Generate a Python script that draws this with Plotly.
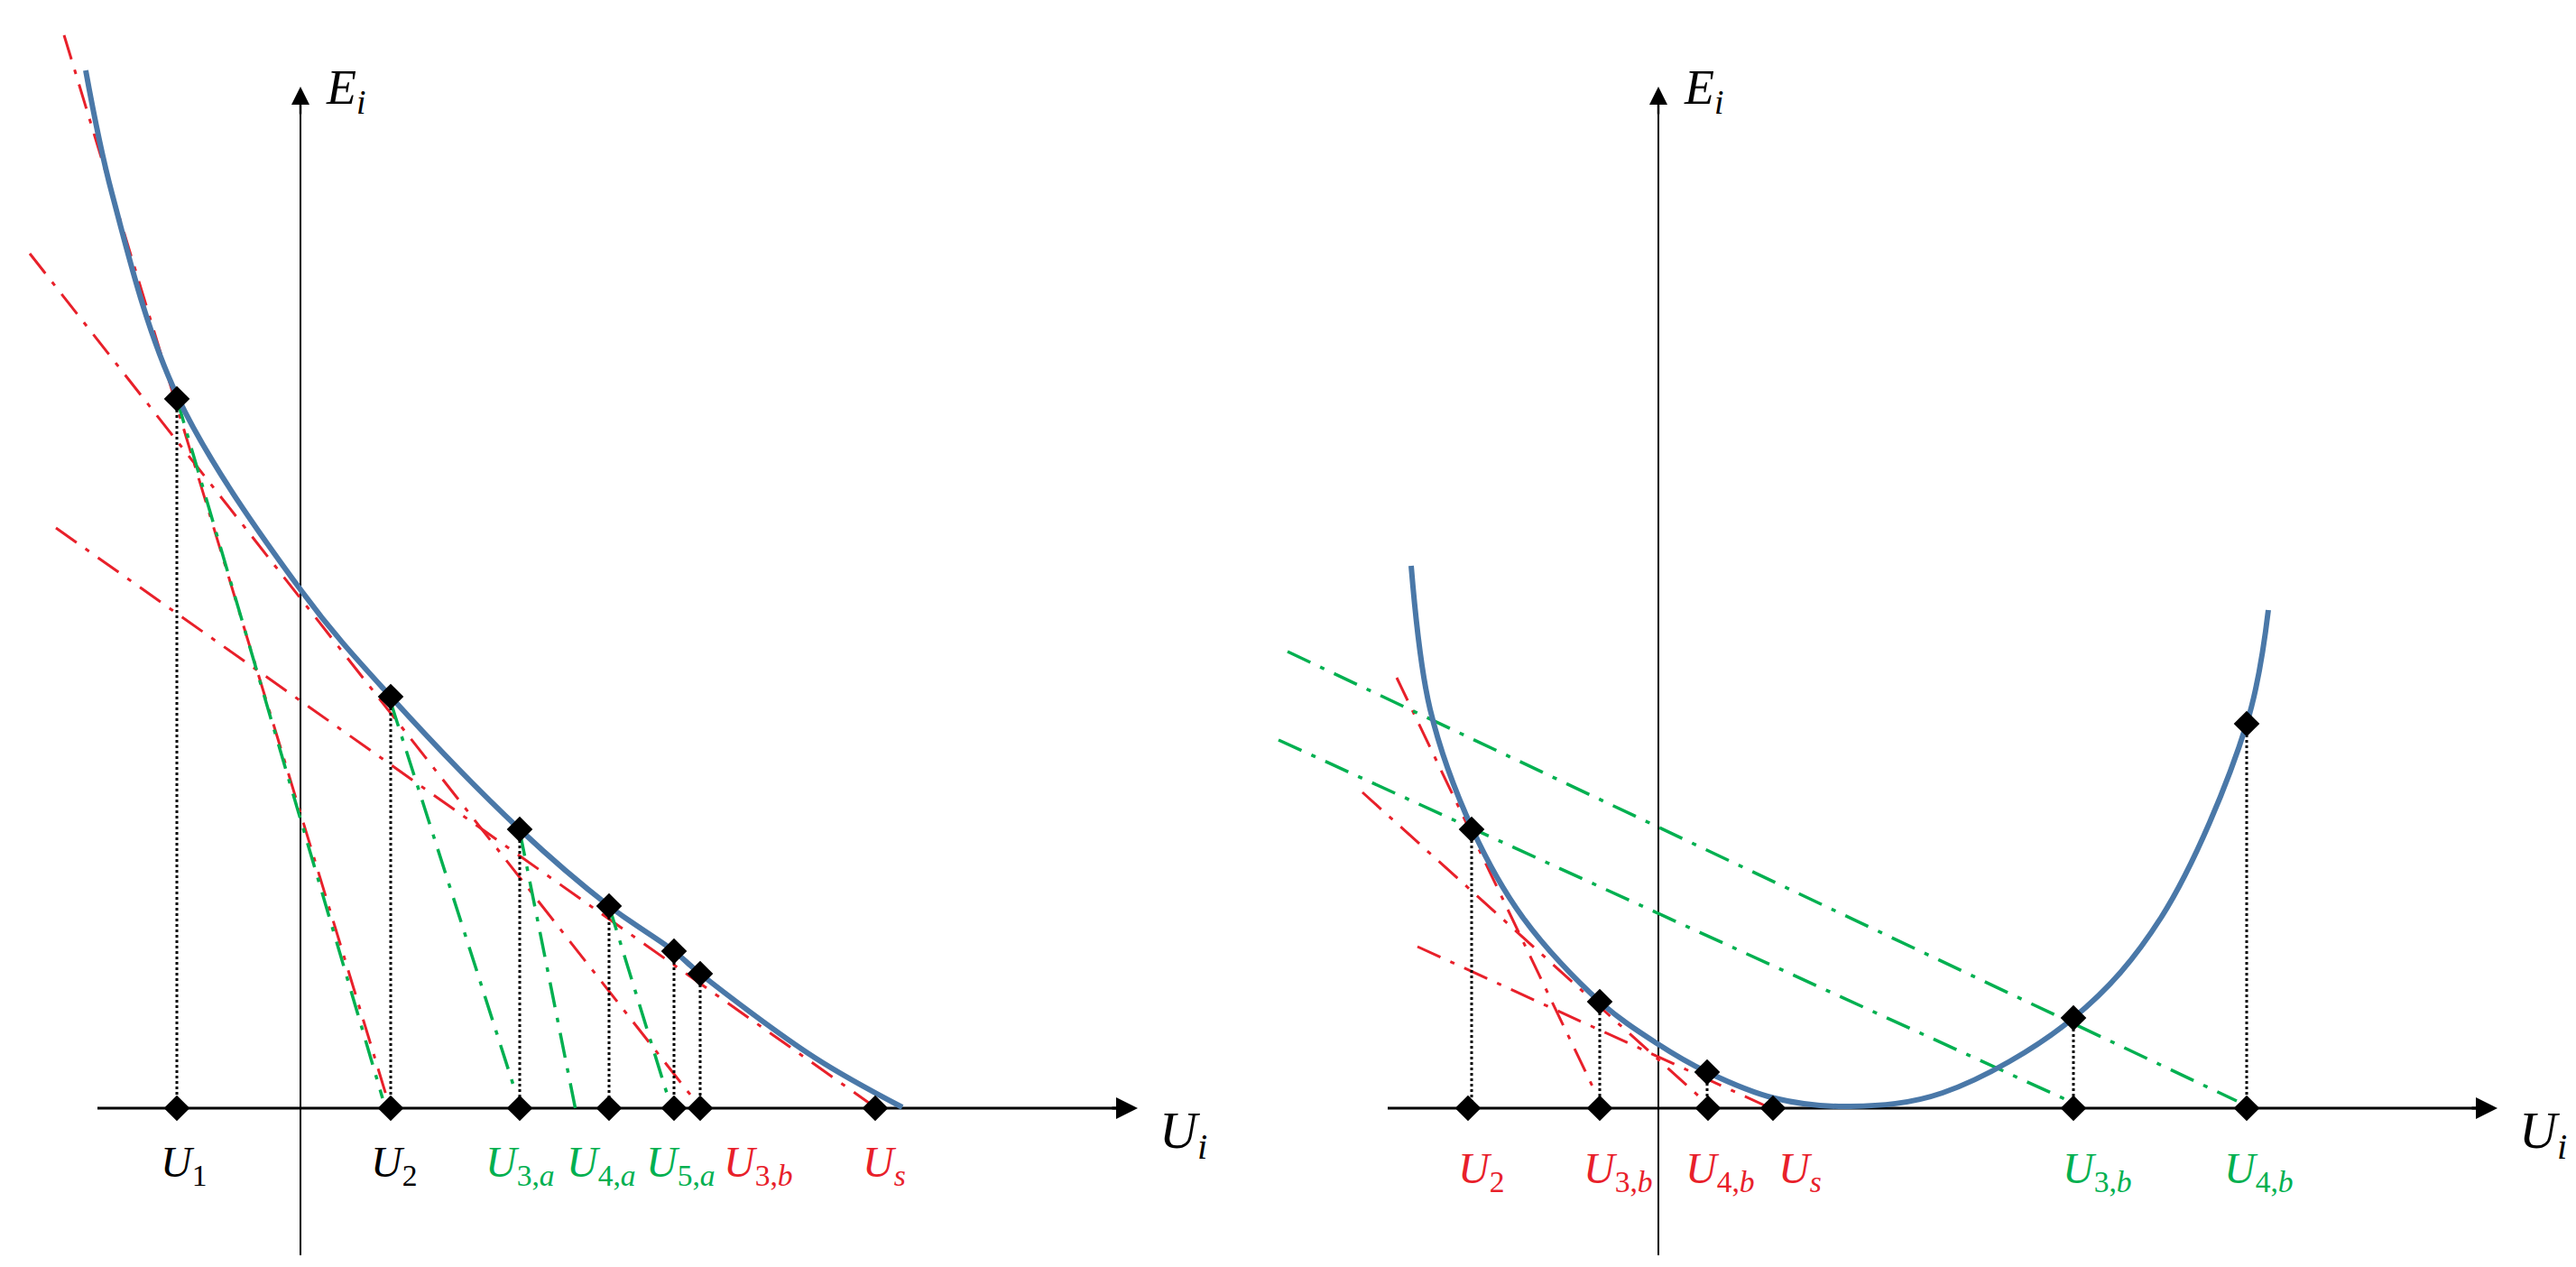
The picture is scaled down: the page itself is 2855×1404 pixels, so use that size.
import plotly.graph_objects as go

# ---- left panel (pixel-like diagram coordinates) ----
L_curve_x = [87, 116, 188, 327, 425, 568, 667, 739, 768, 895, 992]
L_curve_y = [70, 206, 430, 648, 764, 911, 996, 1046, 1071, 1164, 1219]
L_pts_x = [188, 425, 568, 667, 739, 768]
L_pts_y = [434, 764, 911, 996, 1046, 1071]
L_axis_pts_x = [188, 425, 568, 667, 739, 768, 962]
L_red_lines = [[(63, 31), (421, 1209)], [(25, 273), (768, 1219)], [(54, 577), (962, 1219)]]
L_green_lines = [[(188, 434), (416, 1209)], [(425, 770), (564, 1204)],
                 [(568, 913), (631, 1227)], [(667, 996), (734, 1213)]]
L_labels = ["<i>U</i><sub>1</sub>", "<i>U</i><sub>2</sub>", "<i>U</i><sub>3,<i>a</i></sub>",
            "<i>U</i><sub>4,<i>a</i></sub>", "<i>U</i><sub>5,<i>a</i></sub>",
            "<i>U</i><sub>3,<i>b</i></sub>", "<i>U</i><sub><i>s</i></sub>"]
L_label_x = [195, 428, 568, 658, 746, 832, 972]
L_label_c = ["black", "black", "#00b050", "#00b050", "#00b050", "#e8202a", "#e8202a"]

# ---- right panel ----
R_curve_x = [1556, 1577, 1624, 1680, 1765, 1828, 1884, 1959, 2043, 2145, 2290, 2387, 2482, 2506]
R_curve_y = [619, 778, 911, 1009, 1102, 1148, 1180, 1209, 1218, 1203, 1120, 1009, 794, 668]
R_pts_x = [1623, 1765, 1884, 2290, 2482]
R_pts_y = [911, 1102, 1180, 1120, 794]
R_axis_pts_x = [1619, 1765, 1885, 1957, 2290, 2482]
R_red_lines = [[(1540, 743), (1759, 1200)], [(1502, 870), (1884, 1215)], [(1563, 1041), (1950, 1218)]]
R_green_lines = [[(1419, 714), (2471, 1212)], [(1409, 812), (2285, 1212)]]
R_labels = ["<i>U</i><sub>2</sub>", "<i>U</i><sub>3,<i>b</i></sub>", "<i>U</i><sub>4,<i>b</i></sub>",
            "<i>U</i><sub><i>s</i></sub>", "<i>U</i><sub>3,<i>b</i></sub>", "<i>U</i><sub>4,<i>b</i></sub>"]
R_label_x = [1633, 1785, 1898, 1987, 2316, 2495]
R_label_c = ["#e8202a", "#e8202a", "#e8202a", "#e8202a", "#00b050", "#00b050"]

AX_Y = 1220
RED, GREEN, BLUE = "#e8202a", "#00b050", "#4a78a8"
FONT = "Liberation Serif"
DASHDOT = "28px,12px,5px,12px"

fig = go.Figure()

def seg(p, color, dash, width):
    fig.add_trace(go.Scatter(x=[p[0][0], p[1][0]], y=[p[0][1], p[1][1]], mode="lines",
                             line=dict(color=color, dash=dash, width=width), hoverinfo="skip"))

# axes
for (x0, x1, xv) in [(100, 1253, 325), (1530, 2760, 1830)]:
    seg([(x0, AX_Y), (x1 - 10, AX_Y)], "black", "solid", 3)
    seg([(xv, 1383), (xv, 100)], "black", "solid", 2)
    fig.add_annotation(x=x1, y=AX_Y, ax=x1 - 30, ay=AX_Y, xref="x", yref="y", axref="x", ayref="y",
                       showarrow=True, arrowhead=2, arrowsize=1.6, arrowwidth=3, arrowcolor="black", text="")
    fig.add_annotation(x=xv, y=88, ax=xv, ay=120, xref="x", yref="y", axref="x", ayref="y",
                       showarrow=True, arrowhead=2, arrowsize=1.6, arrowwidth=2.5, arrowcolor="black", text="")
    fig.add_annotation(x=xv + 50, y=92, text="<i>E</i><sub><i>i</i></sub>", showarrow=False,
                       font=dict(family=FONT, size=54, color="black"))
    fig.add_annotation(x=x1 + 50, y=AX_Y + 28, text="<i>U</i><sub><i>i</i></sub>", showarrow=False,
                       font=dict(family=FONT, size=58, color="black"))

for p in L_red_lines + R_red_lines:
    seg(p, RED, DASHDOT, 3)
for p in L_green_lines + R_green_lines:
    seg(p, GREEN, DASHDOT, 3.5)

# dotted drops
for xs, ys in [(L_pts_x, L_pts_y), (R_pts_x, R_pts_y)]:
    for x, y in zip(xs, ys):
        seg([(x, y), (x, AX_Y)], "black", "dot", 3)

fig.add_trace(go.Scatter(x=L_curve_x, y=L_curve_y, mode="lines", line=dict(color=BLUE, width=6, shape="spline"), hoverinfo="skip"))
fig.add_trace(go.Scatter(x=R_curve_x, y=R_curve_y, mode="lines", line=dict(color=BLUE, width=6, shape="spline"), hoverinfo="skip"))

mk = dict(symbol="diamond", size=22, color="black")
fig.add_trace(go.Scatter(x=L_pts_x + R_pts_x, y=L_pts_y + R_pts_y, mode="markers", marker=mk))
fig.add_trace(go.Scatter(x=L_axis_pts_x + R_axis_pts_x, y=[AX_Y] * (len(L_axis_pts_x) + len(R_axis_pts_x)),
                         mode="markers", marker=mk))

for labs, xs, cs, yy in [(L_labels, L_label_x, L_label_c, 1283), (R_labels, R_label_x, R_label_c, 1290)]:
    for t, x, c in zip(labs, xs, cs):
        fig.add_annotation(x=x, y=yy, text=t, showarrow=False, font=dict(family=FONT, size=48, color=c))

fig.update_layout(width=2855, height=1404, margin=dict(l=0, r=0, t=0, b=0), showlegend=False,
                  plot_bgcolor="white", paper_bgcolor="white",
                  xaxis=dict(range=[0, 2855], visible=False, fixedrange=True),
                  yaxis=dict(range=[1404, 0], visible=False, fixedrange=True))
fig.write_html("out.html")
